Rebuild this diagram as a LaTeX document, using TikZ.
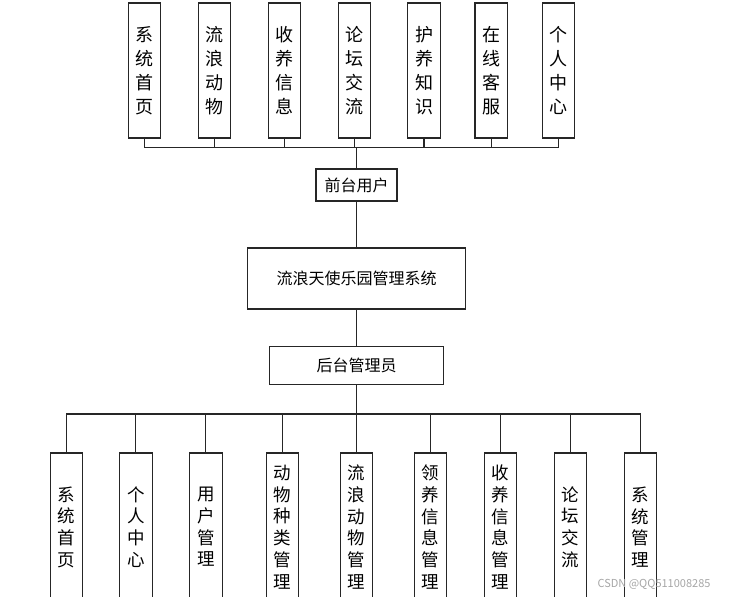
\documentclass[tikz,border=0pt]{standalone}
\usepackage{fontspec}
\newfontfamily\cjk{Noto Sans CJK SC}
\XeTeXlinebreaklocale "zh"
\XeTeXlinebreakskip=0pt plus 1pt
\usepackage{tikz}
\usetikzlibrary{positioning}

\begin{document}
\begin{tikzpicture}[
  x=1pt, y=-1pt,
  line/.style={draw=black!85, line width=1.1pt},
  hbox/.style={line, fill=white, inner sep=0pt, font=\cjk\fontsize{16}{18}\selectfont},
  vbox/.style={line, fill=white, inner sep=0pt, minimum width=32.5pt, text width=19pt, align=center},
  topbox/.style={vbox, minimum height=135pt, font=\cjk\fontsize{18}{24}\selectfont},
  botbox/.style={vbox, minimum height=148pt, font=\cjk\fontsize{17.5}{21.7}\selectfont}
]
  \path[use as bounding box, clip] (0,0) rectangle (737,597);
  % Centre column
  \node[hbox, minimum width=218pt, minimum height=61pt] (sys) at (356.5,278.5) {流浪天使乐园管理系统};
  \node[hbox, minimum width=81pt, minimum height=32pt] (front) at (356.5,185) {前台用户};
  \node[hbox, minimum width=174pt, minimum height=38pt] (back) at (356.5,365.5) {后台管理员};
  % Front end modules
  \foreach \n/\x/\t in {
    1/144.5/系统首页, 2/214.3/流浪动物, 3/284.3/收养信息, 4/354.3/论坛交流,
    5/424/护养知识, 6/491.2/在线客服, 7/558.3/个人中心
  }{
    \node[topbox] (t\n) at (\x,70.5) {\t};
  }
  % Back end modules
  \foreach \n/\x/\t in {
    1/66.3/系统首页, 2/135.8/个人中心, 3/205.8/用户管理, 4/282.5/动物种类管理,
    5/356.5/流浪动物管理, 6/430.5/领养信息管理, 7/500.5/收养信息管理,
    8/570.3/论坛交流, 9/640.5/系统管理
  }{
    \node[botbox] (b\n) at (\x,527) {\t};
  }
  % Buses
  \coordinate (topbus) at (356.5,147.7);
  \coordinate (botbus) at (356.5,414);
  \foreach \n in {1,...,7}
    \draw[line] (t\n.south) |- (topbus);
  \draw[line] (topbus) -- (front.north);
  \draw[line] (front) -- (sys);
  \draw[line] (sys) -- (back);
  \draw[line] (back.south) -- (botbus);
  \foreach \n in {1,...,9}
    \draw[line] (botbus) -| (b\n.north);
  % Watermark
  \node[font=\cjk\fontsize{11}{12}\selectfont, text=black!35, anchor=east] (mark) at (714,584) {CSDN @QQ511008285};
\end{tikzpicture}
\end{document}
